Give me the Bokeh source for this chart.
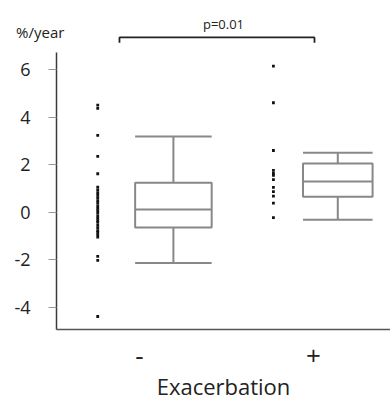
from bokeh.plotting import figure
from bokeh.models import Range1d, FixedTicker, Title
from bokeh.embed import file_html
from bokeh.resources import INLINE

# ---- data ----
categories = ["-", "+"]
cat_pos = [1.0, 2.0]
dot_offset = [-0.24, -0.23]
box_offset = [0.195, 0.14]
box_half_width = [0.22, 0.20]

dots_minus = [4.50, 4.36, 3.23, 2.34, 1.61, 1.05, 0.93, 0.82, 0.71, 0.60, 0.48,
              0.37, 0.26, 0.15, 0.06, -0.05, -0.16, -0.27, -0.36, -0.44, -0.56,
              -0.67, -0.78, -0.86, -0.95, -1.06, -1.87, -2.04, -4.40]
dots_plus = [6.14, 4.60, 2.59, 1.75, 1.63, 1.54, 1.36, 1.04, 0.86, 0.67, 0.37, -0.24]

# box stats
lower = [-2.15, -0.33]
q1 = [-0.65, 0.64]
median = [0.105, 1.28]
q3 = [1.23, 2.04]
upper = [3.18, 2.50]

y_ticks = [-4, -2, 0, 2, 4, 6]
y_tick_labels = ["-4", "-2", "0", "2", "4", "6"]
p_text = "p=0.01"
unit_text = "%/year"
bracket_y = 7.35
bracket_drop = 0.22

FONT = "Open Sans"
BOX_COLOR = "#888888"

Y0, Y1 = -4.947, 7.600
X0, X1 = 0.523, 2.443

p = figure(width=390, height=403, output_backend="svg", toolbar_location=None,
           x_range=Range1d(X0, X1), y_range=Range1d(Y0, Y1),
           min_border_left=56, min_border_right=0, min_border_top=31,
           min_border_bottom=74)
p.outline_line_color = None
p.xgrid.visible = False
p.ygrid.visible = False
p.background_fill_color = "white"
p.border_fill_color = "white"

# p-value text as title above the frame
p.add_layout(Title(text=p_text, align="center", offset=-2, standoff=-3,
                   text_font=FONT, text_font_size="13px",
                   text_font_style="normal", text_color="#222222"), "above")

# y axis
ya = p.yaxis[0]
ya.ticker = FixedTicker(ticks=y_ticks)
ya.major_label_overrides = {t: s for t, s in zip(y_ticks, y_tick_labels)}
ya.bounds = (Y0, 6.72)
ya.axis_line_color = "#3a3a3a"
ya.axis_line_width = 1.5
ya.major_tick_line_color = "#999999"
ya.major_tick_line_width = 1.2
ya.major_tick_out = 8
ya.major_tick_in = 0
ya.minor_tick_line_color = None
ya.major_label_text_font = FONT
ya.major_label_text_font_size = "18px"
ya.major_label_text_color = "#222222"
ya.major_label_standoff = 18
ya.axis_label = unit_text
ya.axis_label_orientation = "horizontal"
ya.axis_label_align = "end"
ya.axis_label_standoff = -53
ya.axis_label_text_font = FONT
ya.axis_label_text_font_size = "15px"
ya.axis_label_text_font_style = "normal"
ya.axis_label_text_color = "#222222"

# x axis
xa = p.xaxis[0]
xa.ticker = FixedTicker(ticks=cat_pos)
xa.major_label_overrides = {1: categories[0], 2: categories[1]}
xa.axis_line_color = "#555555"
xa.axis_line_width = 1.5
xa.major_tick_line_color = None
xa.major_tick_out = 0
xa.major_tick_in = 0
xa.minor_tick_line_color = None
xa.major_label_text_font = FONT
xa.major_label_text_font_size = "26px"
xa.major_label_text_color = "#222222"
xa.major_label_standoff = 17
xa.axis_label = "Exacerbation"
xa.axis_label_text_font = FONT
xa.axis_label_text_font_size = "22px"
xa.axis_label_text_font_style = "normal"
xa.axis_label_text_color = "#222222"
xa.axis_label_standoff = 3

# dots
groups = [dots_minus, dots_plus]
for i, vals in enumerate(groups):
    xs = [cat_pos[i] + dot_offset[i]] * len(vals)
    p.scatter(xs, vals, marker="square", size=2.8, color="#111111", line_color=None)

# boxes
for i in range(2):
    xc = cat_pos[i] + box_offset[i]
    hw = box_half_width[i]
    p.segment([xc, xc], [q3[i], q1[i]], [xc, xc], [upper[i], lower[i]],
              line_color=BOX_COLOR, line_width=2)
    p.segment([xc - hw, xc - hw], [upper[i], lower[i]], [xc + hw, xc + hw],
              [upper[i], lower[i]], line_color=BOX_COLOR, line_width=2)
    p.quad(left=[xc - hw], right=[xc + hw], bottom=[q1[i]], top=[q3[i]],
           fill_color=None, line_color=BOX_COLOR, line_width=2)
    p.segment([xc - hw], [median[i]], [xc + hw], [median[i]],
              line_color=BOX_COLOR, line_width=2)

# significance bracket
bx0, bx1 = 0.885, 2.006
p.line([bx0, bx0, bx1, bx1],
       [bracket_y - bracket_drop, bracket_y, bracket_y, bracket_y - bracket_drop],
       line_color="#222222", line_width=1.8)

open("out.html", "w").write(file_html(p, INLINE))
